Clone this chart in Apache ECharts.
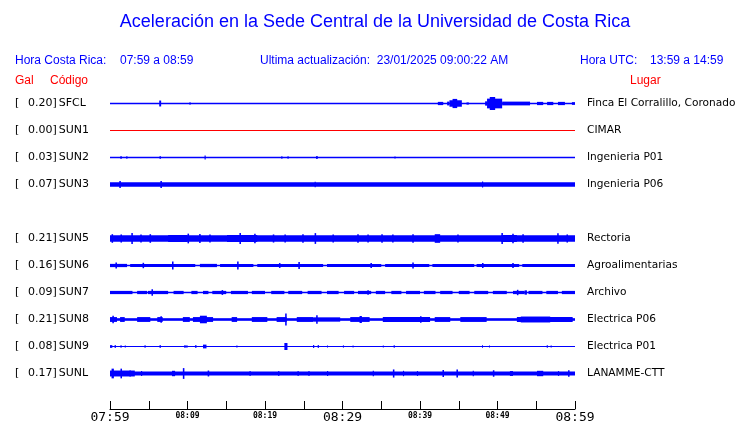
<!DOCTYPE html>
<html><head><meta charset="utf-8">
<script src="https://cdn.jsdelivr.net/npm/echarts@6/dist/echarts.min.js"></script>
<style>html,body{margin:0;padding:0;background:#fff}#c{width:740px;height:423px}</style>
</head><body><div id="c"></div>
<script>
// Stations (top to bottom); SUN4 row is empty
const codes  = ['SFCL','SUN1','SUN2','SUN3','','SUN5','SUN6','SUN7','SUN8','SUN9','SUNL'];
const gal    = ['0.20','0.00','0.03','0.07','','0.21','0.16','0.09','0.21','0.08','0.17'];
const places = ['Finca El Corralillo, Coronado','CIMAR','Ingenieria P01','Ingenieria P06','','Rectoria','Agroalimentarias','Archivo','Electrica P06','Electrica P01','LANAMME-CTT'];
const tickLabels = ['07:59','08:09','08:19','08:29','08:39','08:49','08:59']; // every 10 min from 07:59
const majorTicks = ['07:59','08:29','08:59'];
// Envelope segments: [startMinute, endMinute, halfAmplitude (hundredths of a row)]
const SFCL = [[6.35,6.6,11],[10.25,10.4,5],[42.3,43.0,6],[43.5,43.8,7],[43.8,45.4,12],[44.2,44.8,17],[46.0,46.3,4],[48.4,48.65,8],[48.65,50.6,18],[49.0,49.7,24],[50.6,54.2,7],[55.1,55.9,6],[56.4,57.2,6],[57.8,58.7,6],[59.6,60,5]];
const SUN1 = [];
const SUN2 = [[1.35,1.5,6],[2.1,2.25,5],[6.4,6.55,6],[12.2,12.35,7],[22.1,22.25,5],[22.9,23.05,5],[26.6,26.8,6],[36.7,36.85,4]];
const SUN3 = [[0,60,8],[1.2,1.4,13],[6.5,6.7,13],[26.4,26.55,10],[48.0,48.15,11]];
const SUN5 = [[0,60,12],[0.2,0.4,16],[1.35,1.55,15],[2.75,2.95,20],[3.9,4.1,15],[5.1,5.3,16],[7.5,10.0,13],[10.0,10.2,18],[11.5,11.7,17],[12.8,13.0,15],[15.1,19.0,13],[16.7,16.9,20],[18.6,18.8,18],[21.0,21.2,15],[22.5,22.7,15],[24.8,25.0,16],[26.4,26.6,20],[28.7,28.9,15],[31.9,32.1,16],[33.2,33.4,15],[35.0,35.2,16],[36.4,36.6,15],[39.0,39.2,16],[41.9,42.6,16],[44.8,45.0,15],[50.5,52.5,13],[50.5,50.7,20],[51.9,52.1,18],[53.2,53.4,16],[57.7,57.9,19],[58.9,59.1,15]];
const SUN6 = [[0,2.2,6],[2.6,11.0,6],[11.6,13.8,6],[14.2,18.5,6],[19.0,27.5,6],[28.0,35.0,6],[35.5,41.2,6],[41.6,47.0,6],[47.3,52.8,6],[53.2,60,6],[0.7,0.9,11],[4.2,4.4,10],[8.0,8.2,15],[16.4,16.6,15],[21.8,22.0,9],[24.3,24.5,13],[33.6,33.8,9],[39.0,39.2,11],[48.0,48.2,9],[51.9,52.1,9]];
const SUN7 = [[0,2.9,6],[3.5,4.8,6],[4.9,7.5,6],[8.2,9.5,6],[10.5,11.3,6],[12.0,12.7,6],[13.2,15.0,6],[15.6,17.8,6],[18.3,20.0,6],[20.8,22.5,6],[23.0,24.8,6],[25.5,27.3,6],[28.0,29.5,6],[30.2,31.5,6],[32.0,33.7,6],[34.3,35.5,6],[36.3,37.6,6],[38.2,40.0,6],[40.5,42.0,6],[42.6,44.2,6],[45.0,46.4,6],[47.0,48.8,6],[49.4,51.2,6],[52.0,53.5,6],[54.0,55.8,6],[56.3,57.8,6],[58.3,60,6],[5.35,5.55,12],[14.4,14.6,9],[33.2,33.4,8],[52.5,52.7,10],[53.5,53.8,8]];
const SUN8 = [[0,60,5],[0,0.9,9],[1.3,1.9,9],[3.5,5.2,9],[6.1,6.8,9],[9.4,10.3,9],[10.7,13.3,9],[15.7,16.4,9],[18.3,20.3,9],[21.5,22.8,9],[24.1,26.2,9],[26.2,29.7,8],[31.0,33.5,9],[35.2,41.3,9],[41.9,43.9,9],[45.2,48.6,9],[52.5,59.7,9],[0.3,0.5,14],[6.5,6.7,12],[11.6,12.5,14],[22.6,22.8,22],[26.6,26.8,16],[32.2,32.5,13],[40.0,40.2,12],[53.0,56.8,11]];
const SUN9 = [[0,0.3,5],[0.6,0.75,6],[1.35,1.5,5],[1.9,2.05,4],[4.45,4.6,5],[6.4,6.55,6],[9.6,9.75,6],[9.85,10.0,5],[11.0,11.15,6],[12.0,12.45,7],[16.3,16.45,4],[22.5,22.9,13],[26.2,26.35,6],[26.8,26.95,6],[28.0,28.1,4],[30.05,30.2,4],[31.3,31.4,4],[35.2,35.3,4],[36.6,36.75,5],[48.0,48.1,5],[48.9,49.0,4],[56.35,56.5,5],[56.85,57.0,4]];
const SUNL = [[0,60,7],[0,3.2,11],[0.2,0.5,18],[1.35,1.55,18],[2.5,2.7,11],[4.0,4.15,9],[8.0,8.4,10],[9.4,9.6,20],[12.6,12.8,11],[18.0,18.15,9],[21.7,21.85,9],[24.2,24.35,9],[25.6,25.75,9],[28.0,28.15,9],[33.9,34.05,10],[36.5,36.7,15],[37.8,37.95,10],[39.6,39.75,9],[42.9,43.1,13],[44.7,44.9,15],[46.8,46.95,10],[49.4,49.6,12],[51.6,52.0,9],[55.1,55.9,10],[57.8,57.95,9],[59.1,59.3,12]];
const traces = [SFCL,SUN1,SUN2,SUN3,null,SUN5,SUN6,SUN7,SUN8,SUN9,SUNL];

const BLUE='#0000ff', RED='#ff0000';
const series = [];
traces.forEach((segs,row)=>{
  if(segs===null) return;
  const color = row===1 ? RED : BLUE;
  const base = (row===1 || row===9) ? 2 : 3;
  const data = [[0,60,base,row]].concat(segs.map(s=>[s[0],s[1],s[2],row]));
  series.push({
    type:'custom', silent:true, animation:false,
    encode:{x:[0,1], y:3},
    data:data,
    renderItem:function(params, api){
      const s=api.value(0), e=api.value(1), a=api.value(2), r=api.value(3);
      const band=api.size([0,1])[1];
      const p0=api.coord([s,r]), p1=api.coord([e,r]);
      const h=Math.max(1, 2*a/100*band);
      return {type:'rect', shape:{x:p0[0], y:p0[1]-h/2, width:Math.max(1,p1[0]-p0[0]), height:h}, style:{fill:color}};
    }
  });
});

const chart = echarts.init(document.getElementById('c'), null, {renderer:'canvas'});
chart.setOption({
  animation:false,
  backgroundColor:'#fff',
  grid:{left:110, right:165, top:90, bottom:36, containLabel:false, outerBoundsMode:'none'},
  xAxis:{type:'value', min:0, max:60, interval:5, offset:22,
    axisLine:{show:true, lineStyle:{color:'#000', width:1}},
    axisTick:{show:true, inside:true, length:8, lineStyle:{color:'#000'}},
    splitLine:{show:false},
    axisLabel:{interval:0, margin:2, showMinLabel:true, showMaxLabel:true,
      formatter:function(v){
        if(v%10!==0) return '';
        const t=tickLabels[v/10];
        return majorTicks.indexOf(t)>=0 ? '{big|'+t+'}' : '{small|'+t+'}';
      },
      rich:{
        big:{fontFamily:'DejaVu Sans Mono', fontSize:13, color:'#000', lineHeight:14},
        small:{fontFamily:'DejaVu Sans Mono', fontSize:8, fontWeight:'bold', color:'#000', lineHeight:10, padding:[0,0,1,0]}
      }
    }
  },
  yAxis:[
    {type:'category', inverse:true, data:codes,
      axisLine:{show:false}, axisTick:{show:false}, splitLine:{show:false},
      axisLabel:{interval:0, margin:95, align:'left',
        formatter:function(v,i){ if(!v) return ''; return '{a|[}{b|'+gal[i]+']}{c|'+v+'}'; },
        rich:{a:{fontFamily:'DejaVu Sans', fontSize:11, color:'#000', width:13},
              b:{fontFamily:'DejaVu Sans', fontSize:11, color:'#000'},
              c:{fontFamily:'DejaVu Sans', fontSize:11, color:'#000', padding:[0,0,0,2]}}
      }},
    {type:'category', inverse:true, position:'right', data:places,
      axisLine:{show:false}, axisTick:{show:false}, splitLine:{show:false},
      axisLabel:{interval:0, margin:12, align:'left', fontFamily:'DejaVu Sans', fontSize:10.6, color:'#000'}}
  ],
  graphic:[
    {type:'text', x:375, y:13, style:{text:'Aceleración en la Sede Central de la Universidad de Costa Rica', font:'18px "Liberation Sans"', fill:BLUE, align:'center'}},
    {type:'text', x:15, y:55, style:{text:'Hora Costa Rica:', font:'12px "Liberation Sans"', fill:BLUE}},
    {type:'text', x:120, y:55, style:{text:'07:59 a 08:59', font:'12px "Liberation Sans"', fill:BLUE}},
    {type:'text', x:260, y:55, style:{text:'Ultima actualización:  23/01/2025 09:00:22 AM', font:'12px "Liberation Sans"', fill:BLUE}},
    {type:'text', x:580, y:55, style:{text:'Hora UTC:', font:'12px "Liberation Sans"', fill:BLUE}},
    {type:'text', x:650, y:55, style:{text:'13:59 a 14:59', font:'12px "Liberation Sans"', fill:BLUE}},
    {type:'text', x:15, y:75, style:{text:'Gal', font:'12px "Liberation Sans"', fill:RED}},
    {type:'text', x:50, y:75, style:{text:'Código', font:'12px "Liberation Sans"', fill:RED}},
    {type:'text', x:630, y:75, style:{text:'Lugar', font:'12px "Liberation Sans"', fill:RED}}
  ],
  series:series
});
</script></body></html>
